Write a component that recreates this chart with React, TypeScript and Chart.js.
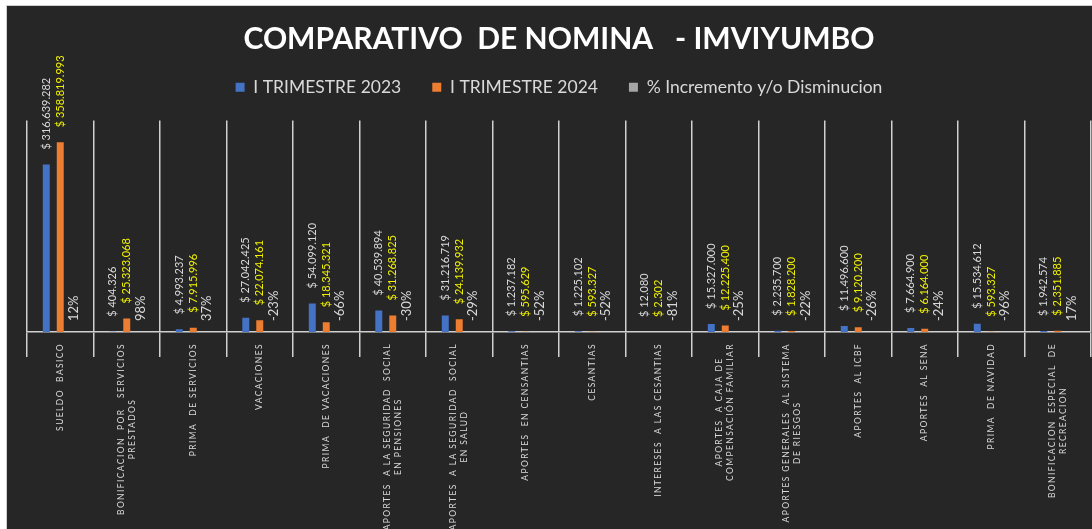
import React, { useEffect, useRef } from 'react';
import { Chart, registerables } from 'chart.js';

Chart.register(...registerables);

const TITLE = 'COMPARATIVO  DE NOMINA   - IMVIYUMBO';
const SERIES_NAMES = ['I TRIMESTRE 2023', 'I TRIMESTRE 2024', '% Incremento y/o Disminucion'];

const CATEGORIES: string[][] = [
  ['SUELDO  BASICO'],
  ['BONIFICACION  POR   SERVICIOS', 'PRESTADOS'],
  ['PRIMA  DE SERVICIOS'],
  ['VACACIONES'],
  ['PRIMA  DE VACACIONES'],
  ['APORTES  A LA SEGURIDAD  SOCIAL', 'EN PENSIONES'],
  ['APORTES  A LA SEGURIDAD  SOCIAL', 'EN SALUD'],
  ['APORTES  EN CENSANTIAS'],
  ['CESANTIAS'],
  ['INTERESES  A LAS CESANTIAS'],
  ['APORTES  A CAJA DE', 'COMPENSACIÓN FAMILIAR'],
  ['APORTES GENERALES  AL SISTEMA', 'DE RIESGOS'],
  ['APORTES  AL ICBF'],
  ['APORTES  AL SENA'],
  ['PRIMA  DE NAVIDAD'],
  ['BONIFICACION  ESPECIAL  DE', 'RECREACION'],
];

const TRIM_2023 = [
  316639282, 404326, 4993237, 27042425, 54099120, 40539894, 31216719, 1237182,
  1225102, 12080, 15327000, 2235700, 11496600, 7664900, 15534612, 1942574,
];
const TRIM_2024 = [
  358819993, 25323068, 7915996, 22074161, 18345321, 31268825, 24139932, 595629,
  593327, 2302, 12225400, 1828200, 9120200, 6164000, 593327, 2351885,
];
const PCT_CHANGE = [12, 98, 37, -23, -66, -30, -29, -52, -52, -81, -25, -22, -26, -24, -96, 17];

const Y_MAX = 400000000;

const COLORS = ['#4472C4', '#ED7D31', '#A5A5A5'];
const LABEL_COLORS = ['#d9d9d9', '#f2f200', '#d9d9d9'];
const FONT = 'Lato, "Open Sans", sans-serif';

const fmtMoney = (n: number) => '$ ' + String(n).replace(/\B(?=(\d{3})+(?!\d))/g, '.');

const valueLabels = {
  id: 'valueLabels',
  afterDatasetsDraw(chart: any) {
    const ctx = chart.ctx;
    chart.data.datasets.forEach((ds: any, di: number) => {
      const meta = chart.getDatasetMeta(di);
      meta.data.forEach((bar: any, i: number) => {
        const v = ds.data[i];
        const text = di < 2 ? fmtMoney(v) : v + '%';
        const top = di < 2 ? Math.min(bar.y, bar.base) - 15 : bar.base - 11;
        ctx.save();
        ctx.font = (di < 2 ? '11px ' : '13px ') + FONT;
        ctx.fillStyle = LABEL_COLORS[di];
        ctx.textAlign = 'left';
        ctx.textBaseline = 'middle';
        ctx.translate(bar.x, top);
        ctx.rotate(-Math.PI / 2);
        ctx.fillText(text, 0, 0);
        ctx.restore();
      });
    });
  },
};

const categoryLabels = {
  id: 'categoryLabels',
  afterDraw(chart: any) {
    const ctx = chart.ctx;
    const xs = chart.scales.x;
    ctx.save();
    ctx.font = '8.5px ' + FONT;
    (ctx as any).letterSpacing = '1.4px';
    ctx.fillStyle = '#d9d9d9';
    ctx.textAlign = 'center';
    ctx.textBaseline = 'middle';
    CATEGORIES.forEach((lines, i) => {
      const cx = xs.getPixelForValue(i);
      const maxW = Math.max(...lines.map((l) => ctx.measureText(l).width));
      const cy = xs.top + 11 + maxW / 2;
      lines.forEach((ln, j) => {
        const lx = cx + (j - (lines.length - 1) / 2) * 11;
        ctx.save();
        ctx.translate(lx, cy);
        ctx.rotate(-Math.PI / 2);
        ctx.fillText(ln, 0, 0);
        ctx.restore();
      });
    });
    ctx.restore();
  },
};

function NominaChart() {
  const ref = useRef<HTMLCanvasElement>(null);
  useEffect(() => {
    if (!ref.current) return;
    const chart = new Chart(ref.current, {
      type: 'bar',
      data: {
        labels: CATEGORIES.map((l) => l.join(' ')),
        datasets: [
          { label: SERIES_NAMES[0], data: TRIM_2023, backgroundColor: COLORS[0], borderWidth: 0 },
          { label: SERIES_NAMES[1], data: TRIM_2024, backgroundColor: COLORS[1], borderWidth: 0 },
          { label: SERIES_NAMES[2], data: PCT_CHANGE, backgroundColor: COLORS[2], borderWidth: 0 },
        ],
      },
      options: {
        responsive: false,
        animation: false,
        events: [],
        datasets: { bar: { categoryPercentage: 0.63, barPercentage: 0.5 } },
        layout: { padding: { left: 20, right: 1, top: 0, bottom: 0 } },
        plugins: {
          tooltip: { enabled: false },
          title: {
            display: true,
            text: TITLE,
            color: '#ffffff',
            font: { family: FONT, size: 30, weight: 'bold', lineHeight: 0.517 },
            padding: { top: 26, bottom: 0 },
          },
          legend: {
            display: true,
            position: 'top',
            labels: {
              color: '#d9d9d9',
              font: { family: FONT, size: 17.5 },
              boxWidth: 9,
              boxHeight: 9,
              padding: 31,
            },
          },
        },
        scales: {
          x: {
            type: 'category',
            position: 'bottom',
            grid: {
              display: true,
              offset: true,
              color: '#d0d0d0',
              lineWidth: 1.5,
              drawTicks: true,
              tickLength: 25,
              tickColor: '#d0d0d0',
              tickWidth: 1.5,
            },
            border: { display: true, color: '#d0d0d0', width: 1.5 },
            ticks: { display: false },
            afterFit: (s: any) => {
              s.height = 197;
            },
          },
          xTop: {
            type: 'category',
            position: 'top',
            display: true,
            grid: { display: false, drawTicks: false },
            border: { display: false },
            ticks: { display: false },
            afterFit: (s: any) => {
              s.height = 14.5;
            },
          },
          y: {
            display: false,
            min: 0,
            max: Y_MAX,
          },
        },
      },
      plugins: [valueLabels, categoryLabels],
    } as any);
    return () => chart.destroy();
  }, []);
  return <canvas ref={ref} width={1085} height={523} />;
}

export default function App() {
  return (
    <div
      style={{
        position: 'fixed',
        left: 6,
        top: 5,
        width: 1086,
        height: 524,
        boxSizing: 'border-box',
        borderLeft: '1px solid #cfcfcf',
        borderTop: '1px solid #cfcfcf',
        background: '#262626',
        overflow: 'hidden',
      }}
    >
      <NominaChart />
    </div>
  );
}
